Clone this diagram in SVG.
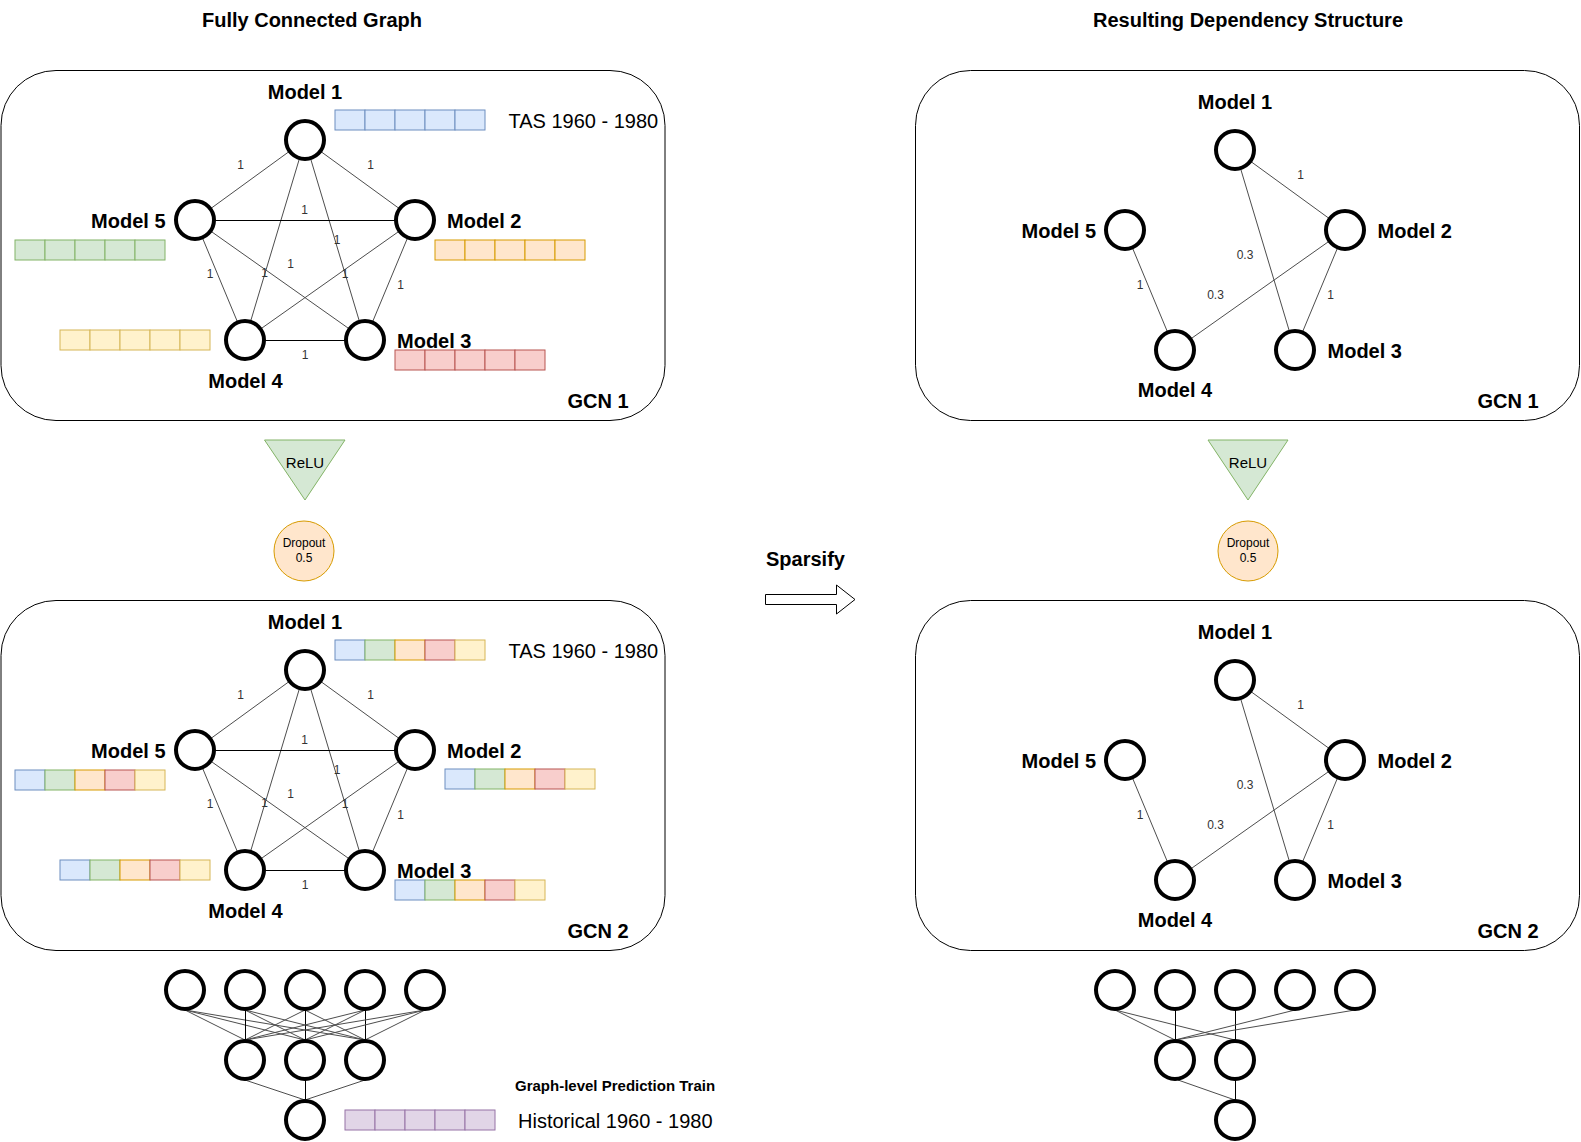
<svg xmlns="http://www.w3.org/2000/svg" width="1581" height="1142" viewBox="0 0 1581 1142">
<style>
.bg{fill:#fff}
.box{fill:none;stroke:#000;stroke-width:1}
.node{fill:#fff;stroke:#000;stroke-width:4}
.edge{stroke:#4d4d4d;stroke-width:1;fill:none}
.edge.h{stroke:#000}
.t{font-family:"Liberation Sans",Arial,sans-serif;fill:#000}
.b20{font-size:20px;font-weight:bold}
.r20{font-size:20px}
.el{font-family:"Liberation Sans",Arial,sans-serif;font-size:12px;fill:#333;text-anchor:middle}
.mid{text-anchor:middle}
.end{text-anchor:end}
.cb{fill:#dae8fc;stroke:#6c8ebf}
.cg{fill:#d5e8d4;stroke:#82b366}
.co{fill:#ffe6cc;stroke:#d79b00}
.cr{fill:#f8cecc;stroke:#b85450}
.cy{fill:#fff2cc;stroke:#d6b656}
.cp{fill:#e1d5e7;stroke:#9673a6}
</style>
<defs>
<g id="vb"><rect class="cb" x="0" y="0" width="30" height="20"/><rect class="cb" x="30" y="0" width="30" height="20"/><rect class="cb" x="60" y="0" width="30" height="20"/><rect class="cb" x="90" y="0" width="30" height="20"/><rect class="cb" x="120" y="0" width="30" height="20"/></g>
<g id="vg"><rect class="cg" x="0" y="0" width="30" height="20"/><rect class="cg" x="30" y="0" width="30" height="20"/><rect class="cg" x="60" y="0" width="30" height="20"/><rect class="cg" x="90" y="0" width="30" height="20"/><rect class="cg" x="120" y="0" width="30" height="20"/></g>
<g id="vo"><rect class="co" x="0" y="0" width="30" height="20"/><rect class="co" x="30" y="0" width="30" height="20"/><rect class="co" x="60" y="0" width="30" height="20"/><rect class="co" x="90" y="0" width="30" height="20"/><rect class="co" x="120" y="0" width="30" height="20"/></g>
<g id="vr"><rect class="cr" x="0" y="0" width="30" height="20"/><rect class="cr" x="30" y="0" width="30" height="20"/><rect class="cr" x="60" y="0" width="30" height="20"/><rect class="cr" x="90" y="0" width="30" height="20"/><rect class="cr" x="120" y="0" width="30" height="20"/></g>
<g id="vy"><rect class="cy" x="0" y="0" width="30" height="20"/><rect class="cy" x="30" y="0" width="30" height="20"/><rect class="cy" x="60" y="0" width="30" height="20"/><rect class="cy" x="90" y="0" width="30" height="20"/><rect class="cy" x="120" y="0" width="30" height="20"/></g>
<g id="vp"><rect class="cp" x="0" y="0" width="30" height="20"/><rect class="cp" x="30" y="0" width="30" height="20"/><rect class="cp" x="60" y="0" width="30" height="20"/><rect class="cp" x="90" y="0" width="30" height="20"/><rect class="cp" x="120" y="0" width="30" height="20"/></g>
<g id="vm"><rect class="cb" x="0" y="0" width="30" height="20"/><rect class="cg" x="30" y="0" width="30" height="20"/><rect class="co" x="60" y="0" width="30" height="20"/><rect class="cr" x="90" y="0" width="30" height="20"/><rect class="cy" x="120" y="0" width="30" height="20"/></g>
</defs>
<rect class="bg" x="0" y="0" width="1581" height="1142"/>

<!-- titles -->
<text class="t b20 mid" x="312" y="27">Fully Connected Graph</text>
<text class="t b20 mid" x="1248" y="27">Resulting Dependency Structure</text>

<!-- containers -->
<g id="gcn1-left"><rect class="box" x="1" y="70.5" width="664" height="350" rx="55"/><text class="t b20" x="567.5" y="408">GCN 1</text></g>
<g id="gcn2-left"><rect class="box" x="1" y="600.5" width="664" height="350" rx="55"/><text class="t b20" x="567.5" y="938">GCN 2</text></g>
<g id="gcn1-right"><rect class="box" x="915.5" y="70.5" width="664" height="350" rx="55"/><text class="t b20" x="1477.5" y="408">GCN 1</text></g>
<g id="gcn2-right"><rect class="box" x="915.5" y="600.5" width="664" height="350" rx="55"/><text class="t b20" x="1477.5" y="938">GCN 2</text></g>

<!-- connectors -->
<g id="connectors">
<!-- left top graph -->
<line class="edge" x1="305" y1="140" x2="195" y2="220"/>
<line class="edge" x1="305" y1="140" x2="415" y2="220"/>
<line class="edge" x1="305" y1="140" x2="365" y2="340"/>
<line class="edge" x1="305" y1="140" x2="245" y2="340"/>
<line class="edge h" x1="195" y1="220.5" x2="415" y2="220.5"/>
<line class="edge" x1="195" y1="220" x2="365" y2="340"/>
<line class="edge" x1="195" y1="220" x2="245" y2="340"/>
<line class="edge" x1="415" y1="220" x2="245" y2="340"/>
<line class="edge" x1="415" y1="220" x2="365" y2="340"/>
<line class="edge h" x1="245" y1="340.5" x2="365" y2="340.5"/>
<!-- left bottom graph -->
<line class="edge" x1="305" y1="670" x2="195" y2="750"/>
<line class="edge" x1="305" y1="670" x2="415" y2="750"/>
<line class="edge" x1="305" y1="670" x2="365" y2="870"/>
<line class="edge" x1="305" y1="670" x2="245" y2="870"/>
<line class="edge h" x1="195" y1="750.5" x2="415" y2="750.5"/>
<line class="edge" x1="195" y1="750" x2="365" y2="870"/>
<line class="edge" x1="195" y1="750" x2="245" y2="870"/>
<line class="edge" x1="415" y1="750" x2="245" y2="870"/>
<line class="edge" x1="415" y1="750" x2="365" y2="870"/>
<line class="edge h" x1="245" y1="870.5" x2="365" y2="870.5"/>
<!-- right top graph -->
<line class="edge" x1="1235" y1="150" x2="1345" y2="230"/>
<line class="edge" x1="1235" y1="150" x2="1295" y2="350"/>
<line class="edge" x1="1345" y1="230" x2="1175" y2="350"/>
<line class="edge" x1="1125" y1="230" x2="1175" y2="350"/>
<line class="edge" x1="1345" y1="230" x2="1295" y2="350"/>
<!-- right bottom graph -->
<line class="edge" x1="1235" y1="680" x2="1345" y2="760"/>
<line class="edge" x1="1235" y1="680" x2="1295" y2="880"/>
<line class="edge" x1="1345" y1="760" x2="1175" y2="880"/>
<line class="edge" x1="1125" y1="760" x2="1175" y2="880"/>
<line class="edge" x1="1345" y1="760" x2="1295" y2="880"/>
<!-- left NN -->
<line class="edge" x1="185" y1="1010" x2="245" y2="1040"/><line class="edge" x1="185" y1="1010" x2="305" y2="1040"/><line class="edge" x1="185" y1="1010" x2="365" y2="1040"/>
<line class="edge h" x1="245.5" y1="1010" x2="245.5" y2="1040"/><line class="edge" x1="245" y1="1010" x2="305" y2="1040"/><line class="edge" x1="245" y1="1010" x2="365" y2="1040"/>
<line class="edge" x1="305" y1="1010" x2="245" y2="1040"/><line class="edge h" x1="305.5" y1="1010" x2="305.5" y2="1040"/><line class="edge" x1="305" y1="1010" x2="365" y2="1040"/>
<line class="edge" x1="365" y1="1010" x2="245" y2="1040"/><line class="edge" x1="365" y1="1010" x2="305" y2="1040"/><line class="edge h" x1="365.5" y1="1010" x2="365.5" y2="1040"/>
<line class="edge" x1="425" y1="1010" x2="245" y2="1040"/><line class="edge" x1="425" y1="1010" x2="305" y2="1040"/><line class="edge" x1="425" y1="1010" x2="365" y2="1040"/>
<line class="edge" x1="245" y1="1080" x2="305" y2="1100"/><line class="edge h" x1="305.5" y1="1080" x2="305.5" y2="1100"/><line class="edge" x1="365" y1="1080" x2="305" y2="1100"/>
<!-- right NN -->
<line class="edge" x1="1115" y1="1010" x2="1175" y2="1040"/><line class="edge" x1="1115" y1="1010" x2="1235" y2="1040"/>
<line class="edge h" x1="1175.5" y1="1010" x2="1175.5" y2="1040"/>
<line class="edge h" x1="1235.5" y1="1010" x2="1235.5" y2="1040"/>
<line class="edge" x1="1295" y1="1010" x2="1175" y2="1040"/>
<line class="edge" x1="1355" y1="1010" x2="1175" y2="1040"/>
<line class="edge" x1="1178" y1="1080" x2="1235" y2="1100"/><line class="edge h" x1="1235.5" y1="1080" x2="1235.5" y2="1100"/>
<!-- edge labels -->
<text class="el" x="240.5" y="168.5">1</text><text class="el" x="370.5" y="168.5">1</text><text class="el" x="304.5" y="214">1</text><text class="el" x="337" y="244">1</text><text class="el" x="290.5" y="268">1</text><text class="el" x="264.5" y="277">1</text><text class="el" x="345" y="278">1</text><text class="el" x="210" y="278">1</text><text class="el" x="400.5" y="288.5">1</text><text class="el" x="305" y="359">1</text>
<text class="el" x="240.5" y="698.5">1</text><text class="el" x="370.5" y="698.5">1</text><text class="el" x="304.5" y="744">1</text><text class="el" x="337" y="774">1</text><text class="el" x="290.5" y="798">1</text><text class="el" x="264.5" y="807">1</text><text class="el" x="345" y="808">1</text><text class="el" x="210" y="808">1</text><text class="el" x="400.5" y="818.5">1</text><text class="el" x="305" y="889">1</text>
<text class="el" x="1300.5" y="178.5">1</text><text class="el" x="1245" y="258.5">0.3</text><text class="el" x="1215.5" y="298.5">0.3</text><text class="el" x="1140" y="288.5">1</text><text class="el" x="1330.5" y="298.5">1</text>
<text class="el" x="1300.5" y="708.5">1</text><text class="el" x="1245" y="788.5">0.3</text><text class="el" x="1215.5" y="828.5">0.3</text><text class="el" x="1140" y="818.5">1</text><text class="el" x="1330.5" y="828.5">1</text>
</g>

<!-- left top nodes -->
<g id="lt-m1"><circle class="node" cx="305" cy="140" r="19"/><text class="t b20 mid" x="305" y="99">Model 1</text><use href="#vb" x="335" y="110"/><text class="t r20" x="508.5" y="128">TAS 1960 - 1980</text></g>
<g id="lt-m2"><circle class="node" cx="415" cy="220" r="19"/><text class="t b20" x="447" y="228">Model 2</text><use href="#vo" x="435" y="240"/></g>
<g id="lt-m3"><circle class="node" cx="365" cy="340" r="19"/><text class="t b20" x="397" y="348">Model 3</text><use href="#vr" x="395" y="350"/></g>
<g id="lt-m4"><circle class="node" cx="245" cy="340" r="19"/><text class="t b20 mid" x="245.5" y="388">Model 4</text><use href="#vy" x="60" y="330"/></g>
<g id="lt-m5"><circle class="node" cx="195" cy="220" r="19"/><text class="t b20 end" x="165.5" y="228">Model 5</text><use href="#vg" x="15" y="240"/></g>

<!-- left bottom nodes -->
<g id="lb-m1"><circle class="node" cx="305" cy="670" r="19"/><text class="t b20 mid" x="305" y="629">Model 1</text><use href="#vm" x="335" y="640"/><text class="t r20" x="508.5" y="658">TAS 1960 - 1980</text></g>
<g id="lb-m2"><circle class="node" cx="415" cy="750" r="19"/><text class="t b20" x="447" y="758">Model 2</text><use href="#vm" x="445" y="769"/></g>
<g id="lb-m3"><circle class="node" cx="365" cy="870" r="19"/><text class="t b20" x="397" y="878">Model 3</text><use href="#vm" x="395" y="880"/></g>
<g id="lb-m4"><circle class="node" cx="245" cy="870" r="19"/><text class="t b20 mid" x="245.5" y="918">Model 4</text><use href="#vm" x="60" y="860"/></g>
<g id="lb-m5"><circle class="node" cx="195" cy="750" r="19"/><text class="t b20 end" x="165.5" y="758">Model 5</text><use href="#vm" x="15" y="770"/></g>

<!-- right top nodes -->
<g id="rt-m1"><circle class="node" cx="1235" cy="150" r="19"/><text class="t b20 mid" x="1235" y="109">Model 1</text></g>
<g id="rt-m2"><circle class="node" cx="1345" cy="230" r="19"/><text class="t b20" x="1377.5" y="238">Model 2</text></g>
<g id="rt-m3"><circle class="node" cx="1295" cy="350" r="19"/><text class="t b20" x="1327.5" y="358">Model 3</text></g>
<g id="rt-m4"><circle class="node" cx="1175" cy="350" r="19"/><text class="t b20 mid" x="1175" y="397">Model 4</text></g>
<g id="rt-m5"><circle class="node" cx="1125" cy="230" r="19"/><text class="t b20 end" x="1096" y="238">Model 5</text></g>

<!-- right bottom nodes -->
<g id="rb-m1"><circle class="node" cx="1235" cy="680" r="19"/><text class="t b20 mid" x="1235" y="639">Model 1</text></g>
<g id="rb-m2"><circle class="node" cx="1345" cy="760" r="19"/><text class="t b20" x="1377.5" y="768">Model 2</text></g>
<g id="rb-m3"><circle class="node" cx="1295" cy="880" r="19"/><text class="t b20" x="1327.5" y="888">Model 3</text></g>
<g id="rb-m4"><circle class="node" cx="1175" cy="880" r="19"/><text class="t b20 mid" x="1175" y="927">Model 4</text></g>
<g id="rb-m5"><circle class="node" cx="1125" cy="760" r="19"/><text class="t b20 end" x="1096" y="768">Model 5</text></g>

<!-- ReLU / Dropout -->
<g id="relu-left"><polygon points="264.5,440 345,440 305,500" fill="#d5e8d4" stroke="#82b366"/><text class="t mid" x="305" y="468" font-size="15" fill="#333">ReLU</text></g>
<g id="dropout-left"><circle cx="304" cy="551" r="30" fill="#ffe6cc" stroke="#d79b00"/><text class="t mid" x="304" y="547" font-size="12" fill="#333">Dropout</text><text class="t mid" x="304" y="562" font-size="12" fill="#333">0.5</text></g>
<g id="relu-right"><polygon points="1208,440 1288,440 1248,500" fill="#d5e8d4" stroke="#82b366"/><text class="t mid" x="1248" y="468" font-size="15" fill="#333">ReLU</text></g>
<g id="dropout-right"><circle cx="1248" cy="551" r="30" fill="#ffe6cc" stroke="#d79b00"/><text class="t mid" x="1248" y="547" font-size="12" fill="#333">Dropout</text><text class="t mid" x="1248" y="562" font-size="12" fill="#333">0.5</text></g>

<!-- Sparsify arrow -->
<g id="sparsify"><text class="t b20" x="766" y="566">Sparsify</text><polygon points="765.5,594.5 836.5,594.5 836.5,585 855,599.5 836.5,614 836.5,604.5 765.5,604.5" fill="#fff" stroke="#000"/></g>

<!-- left NN -->
<g id="nn-left">
<circle class="node" cx="185" cy="990" r="19"/><circle class="node" cx="245" cy="990" r="19"/><circle class="node" cx="305" cy="990" r="19"/><circle class="node" cx="365" cy="990" r="19"/><circle class="node" cx="425" cy="990" r="19"/>
<circle class="node" cx="245" cy="1060" r="19"/><circle class="node" cx="305" cy="1060" r="19"/><circle class="node" cx="365" cy="1060" r="19"/>
<circle class="node" cx="305" cy="1120" r="19"/>
</g>
<g id="nn-right">
<circle class="node" cx="1115" cy="990" r="19"/><circle class="node" cx="1175" cy="990" r="19"/><circle class="node" cx="1235" cy="990" r="19"/><circle class="node" cx="1295" cy="990" r="19"/><circle class="node" cx="1355" cy="990" r="19"/>
<circle class="node" cx="1175" cy="1060" r="19"/><circle class="node" cx="1235" cy="1060" r="19"/>
<circle class="node" cx="1235" cy="1120" r="19"/>
</g>
<g id="prediction"><use href="#vp" x="345" y="1110"/><text class="t" x="515" y="1091" font-size="15" font-weight="bold">Graph-level Prediction Train</text><text class="t r20" x="518" y="1128">Historical 1960 - 1980</text></g>
</svg>
